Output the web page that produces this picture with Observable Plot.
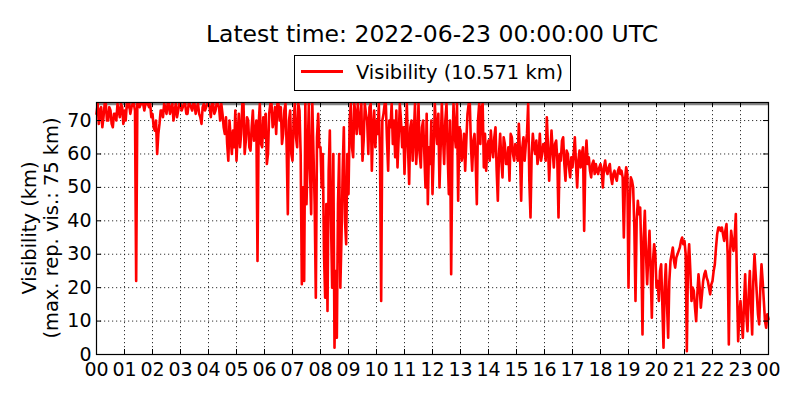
<!DOCTYPE html>
<html><head><meta charset="utf-8">
<script src="https://cdn.jsdelivr.net/npm/d3@7"></script>
<script src="https://cdn.jsdelivr.net/npm/@observablehq/plot@0.6"></script>
<style>
body{margin:0;background:#fff;}
#wrap{width:800px;height:400px;}
</style></head><body><div id="wrap"></div>
<script>
// Visibility (km), one sample every 2.5 minutes, 2022-06-22 00:00 UTC .. 2022-06-23 00:00 UTC
const vis00to06 = [
  72,75,69,73,74,68,71,75,75,70,70,74,73,69,68,72,72,70,75,73,71,75,74,69,
  73,70,75,74,75,72,74,75,75,73,22,75,75,74,75,75,75,73,75,75,75,74,75,71,
  72,68,67,70,60,66,69,73,73,71,75,74,72,75,75,72,74,75,70,73,75,71,73,75,
  75,73,74,75,75,72,72,75,75,74,73,75,75,72,74,75,72,71,69,74,75,73,74,75,
  75,74,71,75,75,72,73,75,75,74,70,75,72,68,66,71,63,58,70,65,60,67,62,73,
  58,66,72,62,66,75,75,60,64,71,70,62,61,68,73,64,65,70,28,69,75,63,62,71
];
const vis06to12 = [
  65,72,57,60,72,75,75,68,70,74,66,75,75,70,74,63,66,73,75,62,42,70,73,60,
  58,70,75,65,62,75,73,60,21,50,22,75,45,60,75,55,42,75,60,45,17,65,72,62,
  62,50,60,30,17,45,13,55,67,40,20,60,2,25,5,45,60,20,35,55,68,40,33,60,
  48,70,75,62,59,75,72,66,75,70,66,75,58,64,75,72,70,60,74,75,55,68,73,62,
  70,66,75,60,16,70,72,75,75,64,55,70,68,75,63,70,59,73,56,65,75,70,62,68,
  54,65,75,62,51,68,70,58,66,75,57,63,75,60,56,68,70,60,50,72,45,62,57,70
];
const vis12to18 = [
  48,60,75,68,63,72,50,62,75,65,57,70,75,60,48,70,24,60,75,66,62,75,46,68,
  67,58,60,66,55,64,72,75,75,62,55,64,66,58,45,70,75,63,74,75,56,66,55,62,
  64,58,67,62,59,65,68,55,46,60,66,58,53,65,63,57,57,62,52,66,65,60,58,63,
  62,58,69,60,46,62,65,58,63,66,75,52,41,60,66,62,60,64,57,60,66,58,60,63,
  63,58,71,62,52,60,67,61,56,63,64,58,41,60,58,64,65,57,52,61,60,56,53,59,
  56,60,65,57,50,58,61,56,60,62,37,58,64,57,59,55,53,57,58,54,57,55,54,56
];
const vis18to24 = [
  57,55,50,56,58,55,54,56,57,53,51,54,55,53,52,55,56,54,55,53,35,52,56,54,
  20,45,53,52,50,38,16,40,46,42,44,30,6,35,43,30,21,30,37,25,11,28,33,30,
  20,22,16,25,27,15,2,20,27,15,5,22,28,30,32,28,26,29,30,31,32,34,35,33,
  34,30,1,28,33,25,16,20,19,14,10,18,24,20,14,18,22,24,25,23,22,20,18,21,
  22,25,27,32,36,38,38,37,38,36,34,37,39,30,3,30,37,34,31,35,42,20,4,12,
  16,10,5,15,24,12,7,18,25,15,6,22,30,24,18,12,9,20,27,22,16,10,8,12,
  10.571
];
const yTicks = [0,10,20,30,40,50,60,70];
const maxRepVis = 75;
const latest = 10.571;
const titleText = "Latest time: 2022-06-23 00:00:00 UTC";
const legendText = `Visibility (${latest} km)`;

const start = Date.UTC(2022,5,22,0,0,0);
const stepMs = 2.5*60000;
const values = [...vis00to06, ...vis06to12, ...vis12to18, ...vis18to24];
const data = values.map((v,i)=>({t:new Date(start + i*stepMs), v}));
const end = new Date(start + 24*3600000);
const hourTicks = d3.utcHour.range(new Date(start), new Date(+end + 1));

const W = 800, H = 400, mL = 96, mR = 32, mT = 102, mB = 46;
const fw = W - mL - mR, fh = H - mT - mB, tl = 5;
const grid = {stroke:"black", strokeOpacity:1, strokeWidth:0.8, strokeDasharray:"1.2,2.8"};

const chart = Plot.plot({
  width:W, height:H, marginLeft:mL, marginRight:mR, marginTop:mT, marginBottom:mB,
  style:{fontFamily:"'DejaVu Sans', sans-serif", background:"white", color:"black", overflow:"visible"},
  x:{type:"utc", domain:[new Date(start), end]},
  y:{domain:[0, 75.4]},
  marks:[
    Plot.gridX(hourTicks, grid),
    Plot.gridY(yTicks, grid),
    Plot.ruleY([maxRepVis], {stroke:"#858585", strokeWidth:2.8}),
    Plot.line(data, {x:"t", y:"v", stroke:"#ff0000", strokeWidth:2.6}),
    Plot.axisX(hourTicks, {tickSize:0, tickPadding:8, tickFormat:d3.utcFormat("%H"), fontSize:19, label:null, fill:"black"}),
    Plot.axisY(yTicks, {tickSize:0, tickPadding:5, fontSize:19, label:null, fill:"black"}),
    Plot.ruleX(hourTicks, {x:d=>d, insetTop:fh-tl, stroke:"black"}),
    Plot.ruleX(hourTicks, {x:d=>d, insetBottom:fh-tl, stroke:"black"}),
    Plot.ruleY(yTicks, {y:d=>d, insetRight:fw-tl, stroke:"black"}),
    Plot.ruleY(yTicks, {y:d=>d, insetLeft:fw-tl, stroke:"black"}),
    Plot.frame({stroke:"black", strokeWidth:1.2})
  ]
});
document.getElementById("wrap").appendChild(chart);

const svg = d3.select(chart);
const ff = "'DejaVu Sans', sans-serif";
svg.append("text").attr("x", mL + fw/2).attr("y", 42).attr("text-anchor","middle")
  .attr("font-family", ff).attr("font-size", 23.5).attr("fill","black").text(titleText);
// legend
svg.append("rect").attr("x",294.5).attr("y",55.5).attr("width",276).attr("height",35)
  .attr("fill","white").attr("stroke","black").attr("stroke-width",1);
svg.append("line").attr("x1",301).attr("x2",343).attr("y1",71.5).attr("y2",71.5)
  .attr("stroke","#ff0000").attr("stroke-width",2.8);
svg.append("text").attr("x",356).attr("y",78.5).attr("text-anchor","start").attr("font-family",ff).attr("font-size",19.44)
  .attr("fill","black").text(legendText);
// y label (two lines)
svg.append("text").attr("transform",`translate(29,${mT + fh/2}) rotate(-90)`).attr("text-anchor","middle")
  .attr("dominant-baseline","central").attr("font-family",ff).attr("font-size",19.44).attr("fill","black")
  .text("Visibility (km)");
svg.append("text").attr("transform",`translate(51,${mT + fh/2}) rotate(-90)`).attr("text-anchor","middle")
  .attr("dominant-baseline","central").attr("font-family",ff).attr("font-size",19.44).attr("fill","black")
  .text(`(max. rep. vis.: ${maxRepVis} km)`);
</script></body></html>
